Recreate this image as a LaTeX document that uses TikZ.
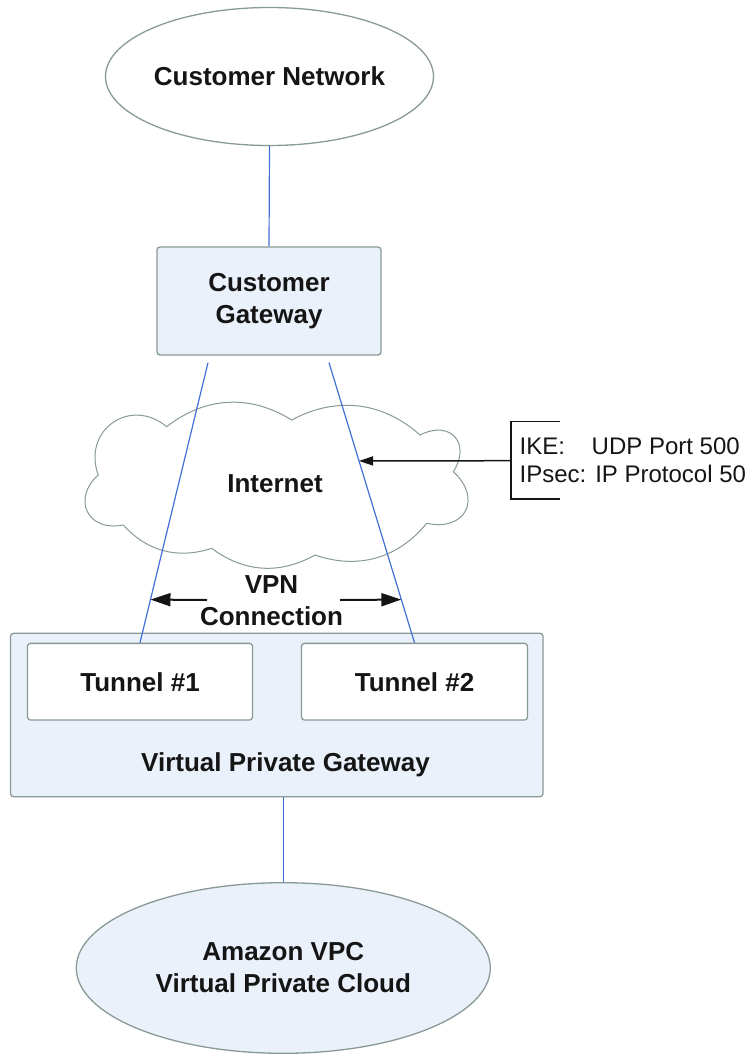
\documentclass[tikz,border=0pt]{standalone}
\usepackage{fontspec}
\setmainfont{Liberation Sans}
\usepackage{xcolor}
\usepackage{tikz}
\usetikzlibrary{shapes,calc,arrows.meta}
\definecolor{rim}{HTML}{889A95}
\definecolor{paleblue}{HTML}{EAF1FB}
\definecolor{wire}{HTML}{4270D6}
\definecolor{ink}{HTML}{151515}

\begin{document}
\begin{tikzpicture}[x=1pt,y=-1pt,
  lbl/.style={font=\fontsize{26}{32}\selectfont\bfseries,text=ink,align=center},
  notetext/.style={font=\fontsize{24}{28.3}\selectfont,text=ink,align=left,inner sep=0pt},
  oval/.style={ellipse,draw=rim,line width=1.3pt,inner sep=0pt,lbl},
  gwbox/.style={rectangle,draw=rim,line width=1.3pt,fill=paleblue,rounded corners=3pt,inner sep=0pt,lbl},
  tunbox/.style={gwbox,fill=white},
  wireline/.style={wire,line width=1.2pt},
  cloudline/.style={draw=rim,line width=1pt,fill=white},
  vpnarrow/.style={-{Triangle[length=20pt,width=13pt]},line width=2pt,ink},
  notearrow/.style={-{Triangle[length=14pt,width=9pt]},line width=1.5pt,ink},
  bracket/.style={line width=1.5pt,ink}]
\useasboundingbox (0,0) rectangle (745,1055);
%\draw[red] (0,0) rectangle (745,1055);
\node[oval,minimum width=328pt,minimum height=138pt] (cnet) at (269.5,76.5) {Customer Network};
\node[gwbox,minimum width=224pt,minimum height=108pt] (cgw) at (269,301) {Customer\\Gateway};
\draw[cloudline] (98.3,475) to[bend left=75,looseness=1.45] (166.7,426.7)
  to[bend left=35] (291.7,420) to[bend left=35] (420,435)
  to[bend left=75,looseness=1.75] (453.3,471.7) to[bend left=75,looseness=1.75] (426.7,523.3)
  to[bend left=35] (315,555) to[bend left=33] (211.7,548.3) to[bend left=33] (123.3,525)
  to[bend left=75,looseness=1.65] (98.3,475) -- cycle;
\node[lbl] (inet) at (275,483.5) {Internet};
\node[gwbox,minimum width=532.5pt,minimum height=163.4pt] (vpg) at (276.8,715) {};
\node[lbl] (vpglbl) at (285.5,765) {Virtual Private Gateway};
\node[tunbox,minimum width=225pt,minimum height=76.7pt] (tun1) at (140,681.7) {Tunnel \#1};
\node[tunbox,minimum width=226pt,minimum height=76.7pt] (tun2) at (414.5,681.7) {Tunnel \#2};
\node[oval,fill=paleblue,minimum width=414pt,minimum height=170.6pt] (vpc) at (283.3,968) {Amazon VPC\\Virtual Private Cloud};
\coordinate (gw1) at ([xshift=-61pt,yshift=-7pt]cgw.south);
\coordinate (gw2) at ([xshift=60pt,yshift=-7pt]cgw.south);
\draw[wireline] (cnet.south) -- (cgw.north);
\draw[wireline] (gw1) -- (tun1.north);
\draw[wireline] (gw2) -- (tun2.north);
\draw[wireline] (vpc.north |- vpg.south) -- (vpc.north);
\node[lbl] (vpn) at (271.5,601) {VPN\\Connection};
\coordinate (vpnl) at (207,600);
\coordinate (vpnr) at (340,600);
\draw[vpnarrow] (vpnl) -- ($(gw1)!0.846!(tun1.north)$);
\draw[vpnarrow] (vpnr) -- ($(gw2)!0.846!(tun2.north)$);
\coordinate (brk) at (511,460.7);
\draw[bracket] (560,421.7) -- (511,421.7) -- (511,499) -- (560,499);
\draw[notearrow] (brk) -- ($(gw2)!0.351!(tun2.north)$);
\node[notetext,anchor=west] (proto) at (519.5,460) {\makebox[72pt][l]{IKE:}UDP Port 500\\IPsec: IP Protocol 50};
\end{tikzpicture}
\end{document}
